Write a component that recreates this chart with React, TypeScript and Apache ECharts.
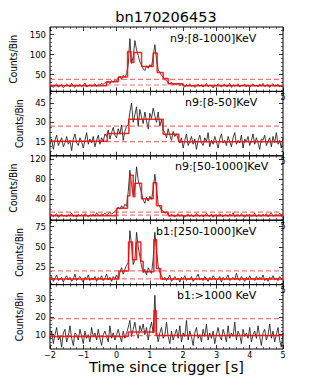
import React, { useEffect, useRef } from "react";
import * as echarts from "echarts";

const FONT = "DejaVu Sans";
const T0 = -2;
const DT = 0.05;

const titleText = "bn170206453";
const xName = "Time since trigger [s]";
const yName = "Counts/Bin";

// Panel 1: n9 [8-1000] keV
const p1Label = "n9:[8-1000]KeV";
const p1Counts = [
  20, 24, 18, 23, 27, 19, 22, 25, 17, 21, 26, 23, 19, 28, 22, 18, 24, 21, 26, 20,
  23, 29, 19, 22, 25, 21, 24, 27, 20, 26, 23, 28, 25, 30,
  29, 33, 27, 35, 31, 38, 34,
  40, 45, 38, 48, 44, 52,
  75, 140, 78, 95, 135, 112, 98, 82, 74,
  65, 60, 72, 66, 75, 70,
  95, 125, 88, 62, 55, 48, 44, 38, 35,
  30, 27, 31, 25, 28, 24, 29, 22, 26,
  23, 19, 25, 21, 27, 20, 24, 18, 22, 26, 21, 25, 19, 23, 28, 20, 24, 22, 17, 25,
  21, 27, 23, 19, 24, 26, 20, 22, 28, 18, 25, 21, 23, 27, 19, 24, 22, 26, 20, 25,
  18, 23, 27, 21, 24, 19, 26, 22, 28, 20, 23, 25, 18, 24, 27, 21, 22, 26, 19, 24, 20,
];
const p1Edges = [-2, -0.3, 0.05, 0.33, 0.43, 0.52, 0.75, 1.1, 1.22, 1.4, 1.55, 2.0];
const p1Levels = [22, 32, 44, 108, 80, 105, 70, 104, 55, 40, 27, 22];
const p1Dashed = [38, 24];
const p1Range = [8, 169];
const p1Ticks = [50, 100, 150];
const p1Minor = 10;

// Panel 2: n9 [8-50] keV
const p2Label = "n9:[8-50]KeV";
const p2Counts = [
  13, 17, 9, 16, 20, 12, 15, 18, 11, 14, 19, 13, 16, 8, 17, 21, 14, 12, 18, 15,
  10, 16, 22, 13, 17, 14, 19, 11, 16, 20, 13, 18, 15, 21,
  19, 24, 17, 22, 26, 20, 18, 25, 21, 28, 16, 23, 27,
  28, 38, 45, 30, 36, 42, 27, 40, 34, 29, 38, 31, 25, 37, 33, 41, 35, 30, 38, 27, 32, 24,
  22, 18, 25, 20, 16, 23, 19, 21, 17,
  14, 18, 10, 16, 21, 12, 15, 19, 13, 17, 9, 16, 20, 14, 12, 18, 15, 22, 11, 16,
  13, 19, 15, 10, 17, 21, 14, 16, 12, 19, 15, 11, 18, 22, 13, 16, 14, 20, 10, 17,
  15, 19, 12, 16, 21, 13, 18, 14, 9, 17, 16, 20, 12, 15, 18, 11, 19, 14, 22, 13,
  16, 10, 18,
];
const p2Edges = [-2, -0.28, 0.37, 1.4, 1.87];
const p2Levels = [15.2, 21.3, 32.3, 20.8, 15];
const p2Dashed = [27, 15];
const p2Range = [4, 54];
const p2Ticks = [15, 30, 45];
const p2Minor = 3.75;

// Panel 3: n9 [50-1000] keV
const p3Label = "n9:[50-1000]KeV";
const p3Counts = [
  6, 9, 5, 8, 11, 4, 7, 10, 6, 8, 5, 9, 7, 12, 6, 8, 4, 10, 7, 9,
  6, 11, 8, 5, 9, 7, 10, 6, 13, 8, 7, 10, 9, 12, 8, 11, 14, 10, 13, 16,
  18, 24, 20, 27, 22, 30, 26,
  55, 98, 70, 48, 62, 105, 78, 66, 52,
  38, 32, 44, 36, 46, 40,
  60, 90, 62, 30, 25, 18, 16, 12, 14,
  9, 6, 10, 7, 5, 8, 11, 6, 9, 7, 4, 8, 10, 6, 9, 5, 7, 11, 8, 6,
  9, 5, 8, 12, 7, 6, 10, 4, 8, 9, 6, 11, 7, 5, 9, 8, 6, 10, 7, 13,
  5, 8, 9, 6, 11, 7, 4, 9, 8, 10, 6, 7, 12, 5, 9, 8, 6, 10, 7, 11,
  5, 9, 13, 6, 8, 10, 7, 12, 6, 9,
];
const p3Edges = [-2, 0.0, 0.33, 0.4, 0.5, 0.55, 0.75, 1.1, 1.2, 1.35, 1.55];
const p3Levels = [7, 22, 47, 88, 45, 72, 41, 73, 27, 14, 7];
const p3Dashed = [14, 8];
const p3Range = [-2, 127];
const p3Ticks = [40, 80, 120];
const p3Minor = 10;

// Panel 4: b1 [250-1000] keV
const p4Label = "b1:[250-1000]KeV";
const p4Counts = [
  9, 13, 7, 11, 15, 8, 10, 12, 6, 11, 14, 9, 12, 7, 10, 16, 8, 11, 13, 9,
  6, 12, 10, 15, 8, 11, 9, 13, 7, 12, 10, 14, 8, 11, 16, 9, 12, 7, 13, 10,
  15, 11,
  18, 24, 16, 22, 27,
  30, 70, 52, 28, 34, 68, 50, 38, 26,
  18, 22, 15, 24, 20, 17,
  35, 68, 45, 26, 18,
  14, 9, 12, 8, 11, 15, 7, 10, 13, 9, 11, 6, 12, 10, 14, 8, 11, 9, 13, 7,
  10, 12, 16, 9, 11, 8, 13, 10, 7, 12, 9, 14, 11, 8, 10, 13, 6, 12, 9, 11,
  15, 8, 10, 12, 9, 17, 11, 8, 13, 10, 7, 12, 9, 14, 10, 11, 8, 13, 9, 12,
  10, 15, 8, 11, 7, 12, 10, 14, 9, 11, 8, 13, 10, 9,
];
const p4Edges = [-2, 0.07, 0.36, 0.48, 0.6, 0.73, 0.8, 1.12, 1.2, 1.32];
const p4Levels = [10, 20, 56, 34, 56, 32, 19, 59, 23, 10];
const p4Dashed = [20, 10];
const p4Range = [3, 83];
const p4Ticks = [25, 50, 75];
const p4Minor = 5;

// Panel 5: b1 >1000 keV
const p5Label = "b1:>1000 KeV";
const p5Counts = [
  8, 12, 5, 10, 14, 7, 9, 3, 11, 13, 6, 9, 15, 8, 4, 11, 10, 7, 13, 9,
  5, 12, 8, 10, 6, 14, 9, 11, 7, 13, 8, 4, 10, 12, 9, 6, 15, 8, 11, 7,
  10, 13, 9, 6, 12, 8, 11,
  14, 18, 9, 13, 17, 11, 8, 15, 12, 16, 10, 14, 7, 13, 17, 11,
  32, 12,
  6, 11, 14, 8, 10, 17, 9, 5, 12, 7, 10, 13, 8, 15, 6, 11, 9, 18, 7, 12,
  9, 4, 11, 14, 8, 10, 6, 13, 9, 16, 7, 11, 8, 12, 5, 10, 14, 9, 7, 13,
  10, 6, 15, 8, 11, 9, 17, 7, 12, 10, 5, 13, 9, 11, 8, 14, 6, 10, 12, 8,
  15, 9, 4, 11, 13, 7, 10, 16, 8, 12, 6, 10, 14, 7, 3, 11,
];
const p5Edges = [-2, 0.35, 1.13, 1.19];
const p5Levels = [9, 11.5, 23.5, 9.5];
const p5Dashed = [19, 9.5];
const p5Range = [2, 38];
const p5Ticks = [10, 20, 30];
const p5Minor = 2;

const panels = [
  { label: p1Label, counts: p1Counts, edges: p1Edges, levels: p1Levels, dashed: p1Dashed, range: p1Range, ticks: p1Ticks, minor: p1Minor, lx: 170 },
  { label: p2Label, counts: p2Counts, edges: p2Edges, levels: p2Levels, dashed: p2Dashed, range: p2Range, ticks: p2Ticks, minor: p2Minor, lx: 185 },
  { label: p3Label, counts: p3Counts, edges: p3Edges, levels: p3Levels, dashed: p3Dashed, range: p3Range, ticks: p3Ticks, minor: p3Minor, lx: 175 },
  { label: p4Label, counts: p4Counts, edges: p4Edges, levels: p4Levels, dashed: p4Dashed, range: p4Range, ticks: p4Ticks, minor: p4Minor, lx: 156 },
  { label: p5Label, counts: p5Counts, edges: p5Edges, levels: p5Levels, dashed: p5Dashed, range: p5Range, ticks: p5Ticks, minor: p5Minor, lx: 177 },
];

const GRID_LEFT = 50;
const GRID_W = 233;
const GRID_TOP = 27;
const GRID_H = 64.4;

const fmtNum = (v: number) => (v < 0 ? "\u2212" + Math.abs(v) : String(v));

function buildOption() {
  const grid: any[] = [];
  const xAxis: any[] = [];
  const yAxis: any[] = [];
  const series: any[] = [];
  const graphic: any[] = [];
  const n = panels.length;

  panels.forEach((p, i) => {
    const top = GRID_TOP + i * GRID_H;
    grid.push({
      left: GRID_LEFT, width: GRID_W, top, height: GRID_H,
      show: true, borderColor: "#000", borderWidth: 1, backgroundColor: "transparent",
    });
    const isLast = i === n - 1;
    const xBase = {
      gridIndex: i, type: "value", min: -2, max: 5, interval: 1,
      axisLine: { show: false, onZero: false },
      axisTick: { show: true, inside: true, length: 4, lineStyle: { color: "#000", width: 0.8 } },
      minorTick: { show: true, splitNumber: 5, length: 2, lineStyle: { color: "#000", width: 0.6 } },
      splitLine: { show: false },
      minorSplitLine: { show: false },
    };
    xAxis.push({
      ...xBase, position: "bottom",
      axisLabel: {
        show: true, fontSize: 8, fontFamily: FONT, color: "#000", margin: 2,
        showMinLabel: true, showMaxLabel: true,
        formatter: (v: number) => (isLast ? fmtNum(v) : v === 5 ? "5" : ""),
      },
      name: isLast ? xName : "",
      nameLocation: "middle", nameGap: 8,
      nameTextStyle: { fontSize: 14.5, fontFamily: FONT, color: "#000", verticalAlign: "top" },
    });
    xAxis.push({ ...xBase, position: "top", axisLabel: { show: false } });

    const [ymin, ymax] = p.range;
    const minorVals: number[] = [];
    for (let v = Math.ceil(ymin / p.minor) * p.minor; v < ymax; v += p.minor) {
      const r = Math.round(v * 100) / 100;
      if (!p.ticks.includes(r) && r > ymin) minorVals.push(r);
    }
    const yBase = {
      gridIndex: i, type: "value", min: ymin, max: ymax,
      axisLine: { show: false, onZero: false }, splitLine: { show: false },
    };
    yAxis.push({
      ...yBase, position: "left",
      axisTick: { show: true, inside: true, length: 4, customValues: p.ticks, lineStyle: { color: "#000", width: 0.8 } },
      axisLabel: { show: true, customValues: p.ticks, fontSize: 8.5, fontFamily: FONT, color: "#000", margin: 4 },
      name: yName, nameLocation: "middle", nameGap: 19,
      nameTextStyle: { fontSize: 10, fontFamily: "DejaVu Sans Condensed, DejaVu Sans", color: "#000" },
    });
    yAxis.push({
      ...yBase, position: "left",
      axisTick: { show: true, inside: true, length: 2, customValues: minorVals, lineStyle: { color: "#000", width: 0.6 } },
      axisLabel: { show: false },
    });
    yAxis.push({
      ...yBase, position: "right",
      axisTick: { show: true, inside: true, length: 4, customValues: p.ticks, lineStyle: { color: "#000", width: 0.8 } },
      axisLabel: { show: false },
    });
    yAxis.push({
      ...yBase, position: "right",
      axisTick: { show: true, inside: true, length: 2, customValues: minorVals, lineStyle: { color: "#000", width: 0.6 } },
      axisLabel: { show: false },
    });

    const xi = 2 * i;
    const yi = 4 * i;
    series.push({
      type: "line", xAxisIndex: xi, yAxisIndex: yi, symbol: "none", silent: true, z: 2,
      lineStyle: { color: "#111", width: 0.8 },
      data: p.counts.map((c, k) => [Math.round((T0 + k * DT) * 100) / 100, c]),
    });
    p.dashed.forEach((d) => {
      series.push({
        type: "line", xAxisIndex: xi, yAxisIndex: yi, symbol: "none", silent: true, z: 3,
        lineStyle: { color: "rgba(255,70,70,0.75)", width: 1.2, type: [5, 3] },
        data: [[-2, d], [5, d]],
      });
    });
    const red = p.edges.map((e, k) => [e, p.levels[k]]);
    red.push([5, p.levels[p.levels.length - 1]]);
    series.push({
      type: "line", xAxisIndex: xi, yAxisIndex: yi, step: "end", symbol: "none", silent: true, z: 4,
      lineStyle: { color: "rgba(255,0,0,0.85)", width: 1.5 },
      data: red,
    });

    graphic.push({
      type: "text", x: p.lx, y: top + 11,
      style: {
        text: p.label, fill: "#000", fontSize: 11, fontFamily: FONT,
        verticalAlign: "middle", textVerticalAlign: "middle",
      },
    });
  });

  return {
    animation: false,
    backgroundColor: "#fff",
    title: {
      text: titleText, left: "center", top: 4,
      textStyle: { fontSize: 14.5, fontWeight: "normal", fontFamily: FONT, color: "#000" },
    },
    grid, xAxis, yAxis, series, graphic,
  };
}

export default function App() {
  const ref = useRef<HTMLDivElement>(null);
  useEffect(() => {
    if (!ref.current) return;
    const chart = echarts.init(ref.current, undefined, { renderer: "svg" });
    chart.setOption(buildOption() as any);
    return () => chart.dispose();
  }, []);
  return (
    <div
      ref={ref}
      style={{ position: "absolute", left: 0, top: 0, width: 332, height: 388, background: "#fff" }}
    />
  );
}
